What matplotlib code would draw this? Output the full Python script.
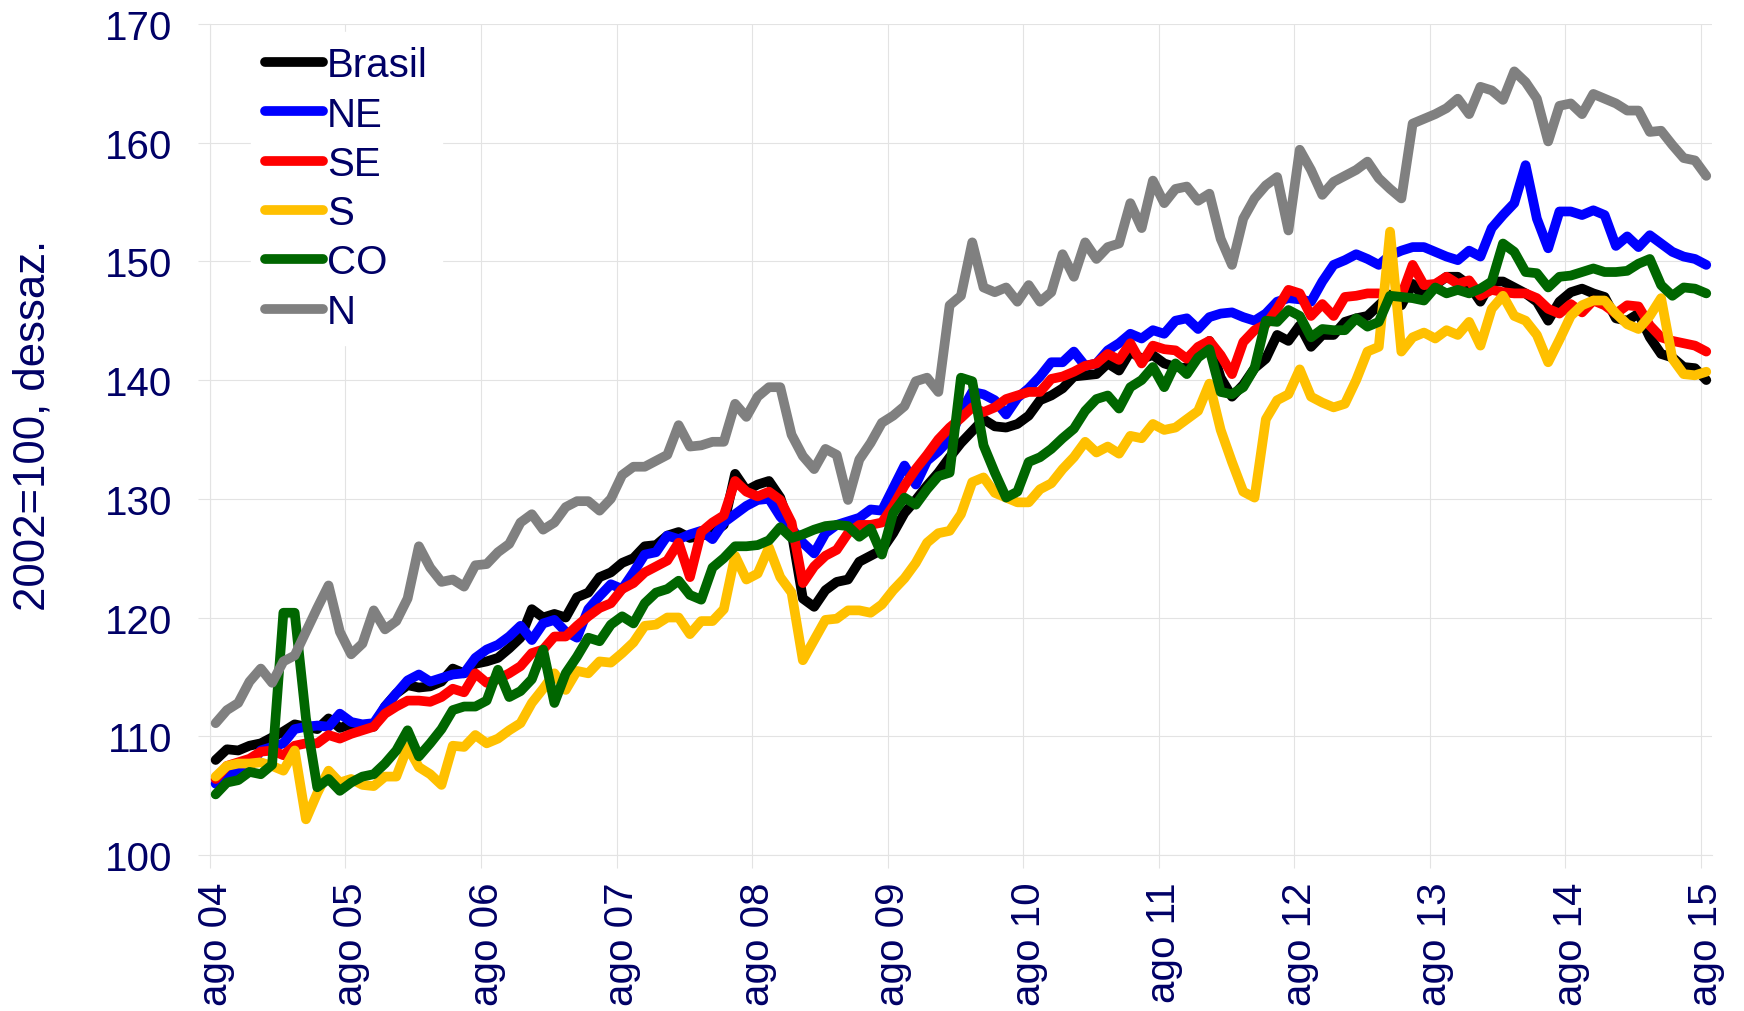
import numpy as np
import matplotlib
matplotlib.use('Agg')
import matplotlib.pyplot as plt

# Indice de emprego por regiao, mensal de ago/04 a ago/15 (2002=100, dessazonalizado)
brasil = [
    108.0, 108.9, 108.8, 109.2, 109.4, 109.9, 110.4, 111.0, 110.8, 110.6, 111.5, 110.7,
    111.0, 110.8, 110.8, 112.5, 113.6, 114.3, 114.1, 114.2, 114.6, 115.7, 115.3, 116.1,
    116.3, 116.6, 117.4, 118.3, 120.7, 120.0, 120.3, 120.0, 121.7, 122.1, 123.4, 123.8,
    124.6, 125.0, 126.0, 126.1, 126.9, 127.2, 126.7, 126.9, 127.1, 127.8, 132.1, 130.7,
    131.2, 131.5, 130.1, 127.2, 121.6, 120.9, 122.3, 123.0, 123.2, 124.7, 125.2, 125.7,
    127.1, 128.8, 129.9, 131.1, 132.2, 133.5, 134.7, 135.7, 136.7, 136.1, 136.0, 136.3,
    137.0, 138.3, 138.7, 139.3, 140.3, 140.4, 140.5, 141.4, 140.8, 142.4, 141.8, 142.1,
    141.4, 141.1, 141.0, 142.1, 143.3, 140.2, 138.6, 139.6, 141.0, 141.8, 143.8, 143.3,
    144.6, 142.8, 143.8, 143.8, 144.9, 145.2, 145.4, 146.3, 147.2, 146.3, 148.1, 147.0,
    148.0, 148.7, 148.7, 148.0, 146.6, 148.3, 148.3, 147.8, 147.3, 146.6, 145.0, 146.6,
    147.4, 147.7, 147.3, 147.0, 145.2, 145.0, 145.6, 143.6, 142.2, 141.9, 141.1, 141.0,
    140.0]

ne = [
    106.0, 106.8, 107.0, 107.4, 108.8, 109.1, 109.4, 110.6, 110.8, 110.9, 110.8, 111.9,
    111.2, 111.0, 111.1, 112.5, 113.6, 114.7, 115.2, 114.6, 114.9, 115.2, 115.3, 116.6,
    117.3, 117.7, 118.4, 119.3, 118.1, 119.5, 119.8, 118.8, 118.3, 120.7, 121.8, 122.8,
    122.4, 123.8, 125.3, 125.5, 126.9, 126.6, 127.0, 127.3, 126.6, 128.0, 128.7, 129.4,
    129.9, 130.0, 128.5, 127.5, 126.3, 125.4, 127.1, 127.8, 128.1, 128.4, 129.1, 129.0,
    130.9, 132.8, 131.2, 133.2, 134.0, 135.0, 137.3, 139.0, 138.8, 138.3, 137.1, 138.5,
    139.3, 140.3, 141.5, 141.5, 142.4, 141.2, 141.4, 142.5, 143.1, 143.9, 143.5, 144.2,
    143.9, 145.0, 145.2, 144.3, 145.3, 145.6, 145.7, 145.3, 145.0, 145.6, 146.6, 146.9,
    146.8, 146.6, 148.3, 149.7, 150.1, 150.6, 150.2, 149.7, 150.5, 150.9, 151.2, 151.2,
    150.8, 150.4, 150.1, 150.9, 150.4, 152.8, 153.9, 154.9, 158.1, 153.6, 151.1, 154.2,
    154.2, 153.9, 154.3, 153.9, 151.3, 152.1, 151.2, 152.2, 151.5, 150.8, 150.4, 150.2,
    149.7]

se = [
    106.4, 107.5, 107.8, 108.1, 108.7, 108.8, 108.4, 109.2, 109.4, 109.4, 110.1, 109.8,
    110.2, 110.5, 110.8, 111.9, 112.5, 113.0, 113.0, 112.9, 113.3, 114.0, 113.7, 115.3,
    114.5, 114.8, 115.3, 115.9, 117.0, 117.3, 118.4, 118.4, 119.3, 120.1, 120.8, 121.2,
    122.4, 122.9, 123.8, 124.3, 124.8, 126.3, 123.4, 127.2, 128.0, 128.6, 131.5, 130.6,
    130.2, 130.6, 129.9, 128.0, 122.9, 124.3, 125.2, 125.7, 127.1, 127.8, 127.8, 128.0,
    129.4, 131.1, 132.5, 133.7, 135.0, 136.0, 136.8, 137.7, 137.3, 137.7, 138.4, 138.7,
    139.0, 139.0, 140.1, 140.3, 140.7, 141.2, 141.4, 142.2, 141.7, 143.1, 141.4, 142.9,
    142.6, 142.5, 141.8, 142.8, 143.3, 142.1, 140.5, 143.2, 144.2, 144.7, 146.0, 147.6,
    147.3, 145.4, 146.4, 145.4, 147.0, 147.1, 147.3, 147.3, 147.0, 147.1, 149.7, 148.0,
    148.1, 148.7, 148.1, 148.4, 147.1, 147.6, 147.4, 147.3, 147.3, 146.9, 146.0, 145.6,
    146.4, 145.7, 146.7, 146.3, 145.6, 146.3, 146.2, 144.6, 143.6, 143.3, 143.1, 142.9,
    142.4]

s = [
    106.6, 107.5, 107.7, 107.7, 107.8, 107.5, 107.1, 108.8, 103.0, 105.2, 107.1, 106.1,
    106.4, 105.9, 105.8, 106.6, 106.6, 109.1, 107.4, 106.8, 105.9, 109.2, 109.1, 110.1,
    109.4, 109.8, 110.5, 111.1, 112.8, 114.0, 115.3, 113.9, 115.5, 115.3, 116.3, 116.2,
    117.0, 117.9, 119.3, 119.4, 120.0, 120.0, 118.6, 119.7, 119.7, 120.7, 125.2, 123.2,
    123.7, 125.9, 123.4, 122.1, 116.4, 118.1, 119.8, 119.9, 120.6, 120.6, 120.4, 121.1,
    122.3, 123.3, 124.6, 126.3, 127.1, 127.3, 128.7, 131.4, 131.8, 130.5, 130.1, 129.7,
    129.7, 130.8, 131.3, 132.5, 133.5, 134.8, 133.9, 134.4, 133.8, 135.3, 135.1, 136.3,
    135.8, 136.0, 136.7, 137.4, 139.7, 135.8, 133.1, 130.6, 130.1, 136.7, 138.3, 138.8,
    140.9, 138.6, 138.1, 137.7, 138.0, 140.0, 142.4, 142.8, 152.5, 142.4, 143.6, 144.0,
    143.5, 144.2, 143.8, 144.9, 142.9, 146.0, 147.1, 145.4, 145.0, 143.8, 141.5, 143.4,
    145.4, 146.3, 146.7, 146.7, 145.6, 144.7, 144.3, 145.4, 146.9, 141.8, 140.5, 140.4,
    140.7]

co = [
    105.1, 106.1, 106.3, 107.0, 106.8, 107.6, 120.4, 120.4, 111.5, 105.7, 106.4, 105.4,
    106.1, 106.6, 106.8, 107.7, 108.8, 110.5, 108.3, 109.4, 110.6, 112.2, 112.5, 112.5,
    113.0, 115.6, 113.3, 113.8, 114.8, 117.3, 112.8, 115.3, 116.7, 118.3, 118.0, 119.4,
    120.1, 119.5, 121.2, 122.1, 122.4, 123.1, 121.9, 121.5, 124.2, 125.0, 126.0, 126.0,
    126.1, 126.5, 127.6, 126.7, 127.0, 127.4, 127.7, 127.8, 127.7, 126.8, 127.5, 125.3,
    128.8, 130.1, 129.5, 130.8, 131.9, 132.2, 140.2, 139.9, 134.5, 132.2, 130.1, 130.6,
    133.1, 133.5, 134.2, 135.1, 135.9, 137.4, 138.4, 138.7, 137.6, 139.4, 140.0, 141.1,
    139.4, 141.4, 140.5, 141.9, 142.6, 139.0, 138.8, 139.4, 141.0, 145.0, 144.9, 145.9,
    145.4, 143.6, 144.3, 144.2, 144.2, 145.2, 144.5, 144.9, 147.1, 147.0, 146.9, 146.7,
    147.8, 147.3, 147.6, 147.3, 147.7, 148.3, 151.5, 150.8, 149.1, 149.0, 147.8, 148.7,
    148.8, 149.1, 149.4, 149.1, 149.1, 149.2, 149.8, 150.2, 148.0, 147.1, 147.8, 147.7,
    147.3]

n = [
    111.1, 112.2, 112.8, 114.6, 115.7, 114.5, 116.3, 116.8, 118.8, 120.8, 122.7, 118.8,
    116.9, 117.8, 120.6, 119.0, 119.7, 121.6, 126.0, 124.2, 123.0, 123.2, 122.6, 124.4,
    124.5, 125.5, 126.2, 128.0, 128.7, 127.4, 128.0, 129.3, 129.8, 129.8, 129.0, 130.0,
    132.0, 132.7, 132.7, 133.2, 133.7, 136.2, 134.4, 134.5, 134.8, 134.8, 138.0, 136.9,
    138.6, 139.4, 139.4, 135.4, 133.6, 132.5, 134.2, 133.7, 129.9, 133.3, 134.7, 136.4,
    137.0, 137.8, 139.9, 140.2, 139.0, 146.3, 147.1, 151.6, 147.8, 147.4, 147.8, 146.6,
    148.0, 146.6, 147.4, 150.6, 148.7, 151.6, 150.2, 151.2, 151.5, 154.9, 152.8, 156.8,
    154.9, 156.1, 156.3, 155.1, 155.7, 151.9, 149.7, 153.6, 155.3, 156.4, 157.1, 152.6,
    159.4, 157.7, 155.6, 156.7, 157.2, 157.7, 158.4, 157.0, 156.1, 155.3, 161.6, 162.0,
    162.4, 162.9, 163.7, 162.4, 164.7, 164.4, 163.6, 166.0, 165.1, 163.7, 160.1, 163.1,
    163.3, 162.4, 164.1, 163.7, 163.3, 162.7, 162.7, 160.9, 161.0, 159.8, 158.7, 158.5,
    157.2]

year_labels = ['ago 04', 'ago 05', 'ago 06', 'ago 07', 'ago 08', 'ago 09',
               'ago 10', 'ago 11', 'ago 12', 'ago 13', 'ago 14', 'ago 15']

series_names = ['Brasil', 'NE', 'SE', 'S', 'CO', 'N']
series_colors = ['#000000', '#0000FF', '#FF0000', '#FFC000', '#006600', '#808080']

NAVY = '#000066'
GRID = '#E3E3E3'

plt.rcParams['font.family'] = ['Liberation Sans', 'DejaVu Sans']


def draw_chart():
    months = np.arange(len(brasil))

    fig = plt.figure(figsize=(17.44, 10.12), dpi=100)
    ax = fig.add_axes([0.1204, 0.1542, 0.8612, 0.8212])

    # later series drawn on top, like the spreadsheet original
    for i, (name, vals, col) in enumerate(zip(series_names,
                                              [brasil, ne, se, s, co, n],
                                              series_colors)):
        ax.plot(months, vals, color=col, lw=7.0, label=name,
                solid_joinstyle='round', solid_capstyle='round', zorder=3 + i)

    ax.set_xlim(-0.5, len(brasil) - 0.5)
    ax.set_ylim(100, 170)
    ax.set_yticks(range(100, 171, 10))

    # gridlines/ticks sit between categories, labels on the august points
    ax.set_xticks(np.arange(-0.5, len(brasil), 12))
    ax.set_xticklabels([])
    ax.set_xticks(np.arange(0, len(brasil), 12), minor=True)
    ax.set_xticklabels(year_labels, minor=True, rotation=90)

    ax.set_axisbelow(True)
    ax.grid(True, which='major', color=GRID, lw=0.8)
    ax.tick_params(axis='x', which='major', length=9, width=0.8, color=GRID)
    ax.tick_params(axis='x', which='minor', length=0, pad=19,
                   labelsize=29, labelcolor=NAVY)
    ax.tick_params(axis='y', length=9, width=0.8, color=GRID, pad=18,
                   labelsize=29, labelcolor=NAVY)

    for side in ['top', 'right']:
        ax.spines[side].set_visible(False)
    for side in ['left', 'bottom']:
        ax.spines[side].set_color(GRID)
        ax.spines[side].set_linewidth(0.8)

    fig.text(0.019, 0.58, '2002=100, dessaz.', rotation=90, ha='center',
             va='center', fontsize=31.5, color=NAVY)

    leg = ax.legend(loc='upper left', bbox_to_anchor=(0.0273, 0.990),
                    borderaxespad=0, borderpad=0.35, fontsize=29,
                    handlelength=1.44, handletextpad=0.1, labelspacing=0.28,
                    frameon=True, fancybox=False, framealpha=1,
                    facecolor='white', edgecolor='white')
    for t in leg.get_texts():
        t.set_color(NAVY)

    fig.savefig('out.png', dpi=100, facecolor='white')


if __name__ == '__main__':
    draw_chart()
